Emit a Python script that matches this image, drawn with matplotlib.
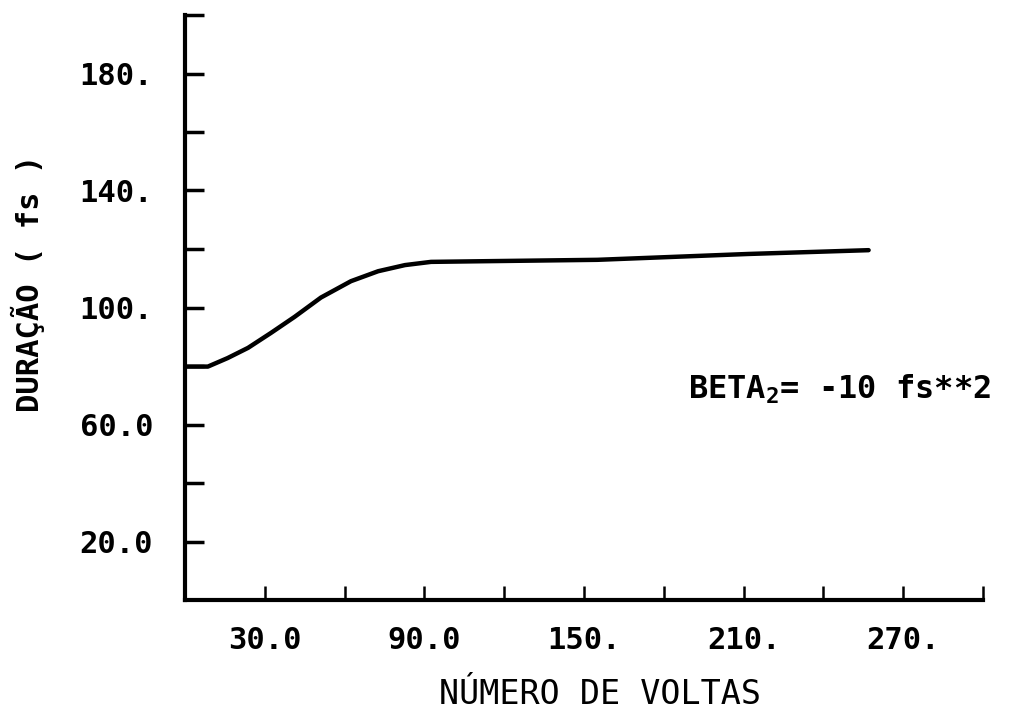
import numpy as np
import matplotlib
matplotlib.use("Agg")
import matplotlib.pyplot as plt

# curve
voltas = [0, 8.6, 16, 23.7, 32.3, 41.2, 51.1, 62.4, 72.6, 82.7, 92.5, 110, 155, 211.7, 257]
duracao = [79.8, 79.8, 82.7, 86.2, 91.3, 96.8, 103.4, 109.0, 112.4, 114.5, 115.6, 115.8, 116.3, 118.3, 119.6]

x_ticks = [30, 60, 90, 120, 150, 180, 210, 240, 270, 300]
x_labels = ["30.0", "", "90.0", "", "150.", "", "210.", "", "270.", ""]
y_ticks = [20, 40, 60, 80, 100, 120, 140, 160, 180, 200]
y_labels = ["20.0", "", "60.0", "", "100.", "", "140.", "", "180.", ""]

plt.rcParams["font.family"] = "DejaVu Sans Mono"
plt.rcParams["font.weight"] = "bold"
plt.rcParams["mathtext.fontset"] = "custom"
plt.rcParams["mathtext.rm"] = "DejaVu Sans Mono:bold"
plt.rcParams["mathtext.default"] = "rm"

fig = plt.figure(figsize=(10.11, 7.10), dpi=100)
ax = fig.add_axes([185 / 1011, 1 - 600 / 710, (983 - 185) / 1011, (600 - 15) / 710])

ax.plot(voltas, duracao, color="black", linewidth=3.2, solid_capstyle="round")

ax.set_xlim(0, 300)
ax.set_ylim(0, 200)
ax.spines["top"].set_visible(False)
ax.spines["right"].set_visible(False)
ax.spines["left"].set_linewidth(3)
ax.spines["bottom"].set_linewidth(3)

ax.set_xticks(x_ticks)
ax.set_xticklabels(x_labels)
ax.set_yticks(y_ticks)
ax.set_yticklabels(y_labels)
ax.tick_params(axis="x", direction="in", length=10, width=1.8, pad=19, labelsize=22)
ax.tick_params(axis="y", direction="in", length=14, width=2.5, pad=23, labelsize=22)

ax.text(189, 69, "BETA$_{2}$= -10 fs**2", fontsize=23, ha="left", va="baseline", clip_on=False)

fig.text(600 / 1011, 1 - 694 / 710, "NÚMERO DE VOLTAS", fontsize=24, fontweight="normal",
         ha="center", va="center")
fig.text(28 / 1011, 1 - 283 / 710, "DURAÇÃO ( fs )", fontsize=22, rotation=90,
         ha="center", va="center")

fig.savefig("out.png", dpi=100)
